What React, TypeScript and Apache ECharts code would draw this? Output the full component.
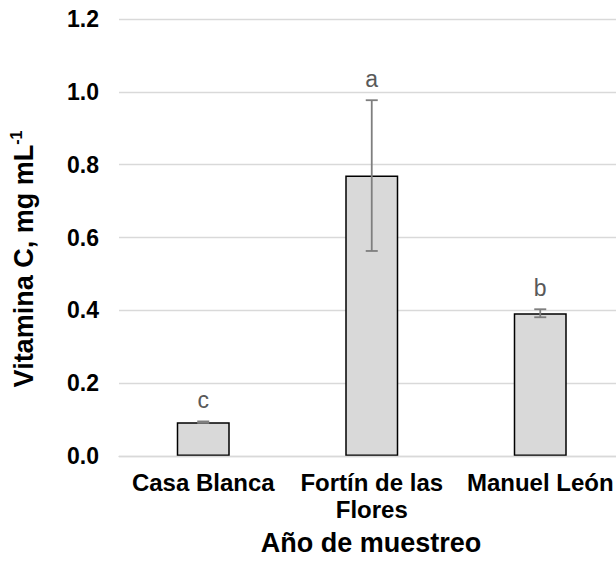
import React, { useEffect, useRef } from "react";
import * as echarts from "echarts";

// Sampling sites, mean vitamin C content, standard deviation and significance letters
const sites = ["Casa Blanca", "Fortín de las Flores", "Manuel León"];
const vitaminC = [0.093, 0.77, 0.392];
const stdDev = [0.002, 0.207, 0.011];
const groups = ["c", "a", "b"];
const yTicks = { min: 0, max: 1.2, interval: 0.2 };

const FONT = "Liberation Sans, Arial, sans-serif";

export default function App() {
  const ref = useRef<HTMLDivElement>(null);

  useEffect(() => {
    if (!ref.current) return;
    const chart = echarts.init(ref.current, null, { renderer: "svg" });

    const errorData = sites.map((_, i) => [i, vitaminC[i], stdDev[i]]);

    chart.setOption({
      animation: false,
      backgroundColor: "#ffffff",
      textStyle: { fontFamily: FONT },
      grid: {
        left: 119,
        right: -8.5,
        top: 19,
        bottom: 105,
        containLabel: false,
        outerBoundsMode: "none",
      },
      xAxis: {
        type: "category",
        data: sites,
        z: 5,
        axisLine: { show: true, lineStyle: { color: "#d9d9d9", width: 1.3 } },
        axisTick: { show: false },
        axisLabel: {
          color: "#000000",
          fontFamily: FONT,
          fontWeight: "bold",
          fontSize: 24,
          lineHeight: 27,
          margin: 13,
          interval: 0,
          formatter: (v: string) => v.replace(" las ", " las\n"),
        },
      },
      yAxis: {
        type: "value",
        min: yTicks.min,
        max: yTicks.max,
        interval: yTicks.interval,
        axisLine: { show: false },
        axisTick: { show: false },
        splitLine: { lineStyle: { color: "#d9d9d9", width: 1.3 } },
        axisLabel: {
          color: "#000000",
          fontFamily: FONT,
          fontWeight: "bold",
          fontSize: 23,
          margin: 20,
          formatter: (v: number) => v.toFixed(1),
        },
      },
      series: [
        {
          type: "bar",
          data: vitaminC,
          barWidth: 53,
          itemStyle: { color: "#d9d9d9", borderColor: "#000000", borderWidth: 1.5 },
          z: 2,
        },
        {
          type: "custom",
          data: errorData,
          z: 6,
          encode: { x: 0, y: 1 },
          renderItem: (params: any, api: any) => {
            const i = api.value(0);
            const v = api.value(1);
            const e = api.value(2);
            const top = api.coord([i, v + e]);
            const bot = api.coord([i, v - e]);
            const cap = 6;
            const line = { stroke: "#7f7f7f", lineWidth: 1.8 };
            return {
              type: "group",
              children: [
                { type: "line", shape: { x1: top[0], y1: top[1], x2: bot[0], y2: bot[1] }, style: line },
                { type: "line", shape: { x1: top[0] - cap, y1: top[1], x2: top[0] + cap, y2: top[1] }, style: line },
                { type: "line", shape: { x1: bot[0] - cap, y1: bot[1], x2: bot[0] + cap, y2: bot[1] }, style: line },
                {
                  type: "text",
                  x: top[0],
                  y: top[1] - 21,
                  style: {
                    text: groups[params.dataIndex],
                    fill: "#595959",
                    font: `23px ${FONT}`,
                    align: "center",
                    verticalAlign: "middle",
                  },
                },
              ],
            };
          },
        },
      ],
      graphic: [
        {
          type: "text",
          x: 24,
          y: 259,
          rotation: Math.PI / 2,
          style: {
            text: "{m|Vitamina C, mg mL}{s|-1}",
            align: "center",
            verticalAlign: "middle",
            fill: "#000000",
            rich: {
              m: { fontFamily: FONT, fontWeight: "bold", fontSize: 27, lineHeight: 32, fill: "#000000" },
              s: { fontFamily: FONT, fontWeight: "bold", fontSize: 16, lineHeight: 32, verticalAlign: "top", fill: "#000000" },
            },
          },
        },
        {
          type: "text",
          x: 371,
          y: 543,
          style: {
            text: "Año de muestreo",
            fill: "#000000",
            font: `bold 27px ${FONT}`,
            align: "center",
            verticalAlign: "middle",
          },
        },
      ],
    });

    return () => chart.dispose();
  }, []);

  return (
    <div
      ref={ref}
      style={{ position: "absolute", left: 0, top: 0, width: 616, height: 561, overflow: "hidden" }}
    />
  );
}
